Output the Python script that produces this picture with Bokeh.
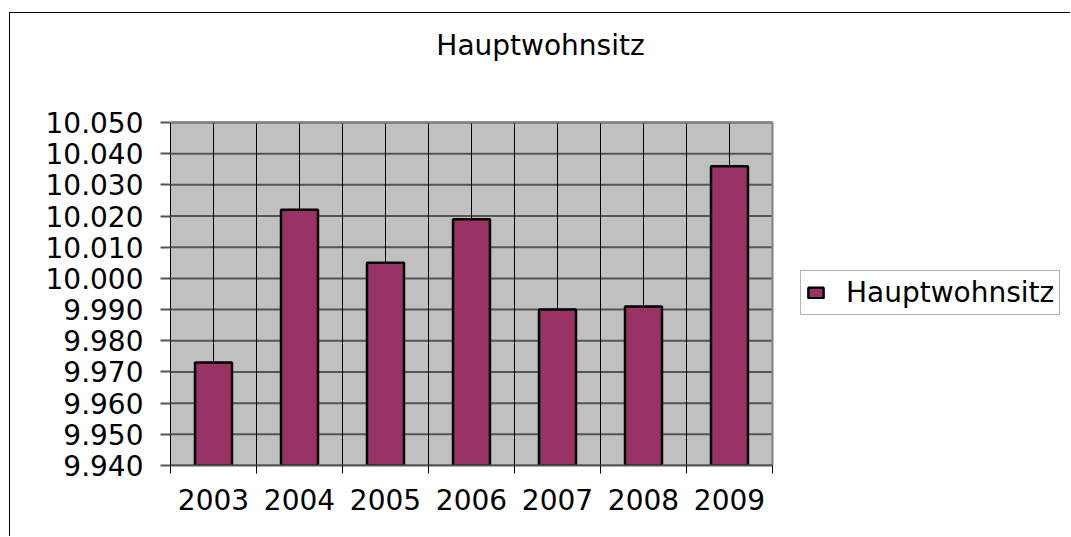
from bokeh.plotting import figure
from bokeh.models import (Range1d, FixedTicker, SingleIntervalTicker, Label,
                          CustomJSTickFormatter, Legend, LegendItem, ColumnDataSource)
from bokeh.embed import file_html
from bokeh.resources import INLINE

# ---- data ----
title_text = "Hauptwohnsitz"
series_name = "Hauptwohnsitz"
years = ["2003", "2004", "2005", "2006", "2007", "2008", "2009"]
values = [9973, 10022, 10005, 10019, 9990, 9991, 10036]
y_min, y_max, y_step = 9940, 10050, 10

n = len(years)
centers = [i + 0.5 for i in range(n)]
bounds = list(range(n + 1))
y_ticks = list(range(y_min, y_max + 1, y_step))

src = ColumnDataSource(dict(x=centers, top=values, year=years))

FONT = "DejaVu Sans"
FS = "28px"

# layout (pixels); the frame spans the whole chart area so that title and
# legend can sit inside it, while the grey plot area covers only the data ranges
FIG_W, FIG_H = 1061, 524
LEFT, TOP_GAP = 160, 109           # plot-area left edge, space above the plot area
PLOT_W, PLOT_H = 602, 343
BOTTOM = FIG_H - TOP_GAP - PLOT_H
x_end = (FIG_W - LEFT) * n / PLOT_W
y_end = y_max + (y_max - y_min) * TOP_GAP / PLOT_H

p = figure(width=FIG_W, height=FIG_H, output_backend="svg", toolbar_location=None,
           x_range=Range1d(0, x_end), y_range=Range1d(y_min, y_end),
           min_border_left=LEFT, min_border_right=0, min_border_top=0,
           min_border_bottom=BOTTOM,
           background_fill_color="white", border_fill_color="white",
           outline_line_color=None)
p.title.visible = False
p.styles = {"border-left": "1px solid black", "border-top": "1px solid black",
            "margin-left": "9px", "margin-top": "12px"}
p.xgrid.visible = False
p.ygrid.visible = False

# plot area background
p.quad(left=[0], right=[n], bottom=[y_min], top=[y_max], fill_color="#C0C0C0",
       line_color=None, level="image")
# horizontal gridlines
p.segment(x0=[0] * len(y_ticks), x1=[n] * len(y_ticks), y0=y_ticks, y1=y_ticks,
          line_color="#555555", line_width=2, level="underlay")
# vertical gridlines (category centres and boundaries)
v_lines = sorted(centers + bounds[1:-1])
p.segment(x0=v_lines, x1=v_lines, y0=[y_min] * len(v_lines), y1=[y_max] * len(v_lines),
          line_color="black", line_width=1, level="underlay")
# plot area border (top and right)
p.segment(x0=[0, n], x1=[n, n], y0=[y_max, y_min], y1=[y_max, y_max],
          line_color="#808080", line_width=2, level="underlay")

r = p.vbar(x="x", top="top", bottom=y_min, width=0.43, source=src,
           fill_color="#993366", line_color="black", line_width=2.5)

# x axis
xa = p.below[0]
xa.bounds = (0, n)
xa.ticker = FixedTicker(ticks=centers, minor_ticks=bounds)
xa.formatter = CustomJSTickFormatter(args=dict(labels=years),
                                     code="return labels[Math.floor(tick)];")
xa.major_label_text_font = FONT
xa.major_label_text_font_size = FS
xa.major_label_text_color = "black"
xa.major_tick_in = 0
xa.major_tick_out = 0
xa.minor_tick_in = 0
xa.minor_tick_out = 8
xa.minor_tick_line_color = "black"
xa.axis_line_color = "#555555"
xa.axis_line_width = 2
xa.major_label_standoff = 15

# y axis
ya = p.left[0]
ya.bounds = (y_min, y_max)
ya.ticker = SingleIntervalTicker(interval=y_step, num_minor_ticks=0)
ya.formatter = CustomJSTickFormatter(
    code=r"return Math.round(tick).toString().replace(/\B(?=(\d{3})+(?!\d))/g, '.');")
ya.major_label_text_font = FONT
ya.major_label_text_font_size = FS
ya.major_label_text_color = "black"
ya.major_tick_in = 0
ya.major_tick_out = 10
ya.major_tick_line_color = "#555555"
ya.major_tick_line_width = 2
ya.minor_tick_out = 0
ya.minor_tick_in = 0
ya.axis_line_color = "black"
ya.major_label_standoff = 17

# chart title
title = Label(x=370, y=PLOT_H + 77, x_units="screen", y_units="screen",
              text=title_text, text_font=FONT, text_font_size=FS,
              text_color="black", text_align="center", text_baseline="alphabetic")
p.add_layout(title)

legend = Legend(items=[LegendItem(label=series_name, renderers=[r])],
                location=(630, 150), orientation="vertical",
                label_text_font=FONT, label_text_font_size=FS, label_text_color="black",
                glyph_width=19, glyph_height=13, label_standoff=21,
                padding=5, margin=0, spacing=0,
                border_line_color="#666666", border_line_width=1,
                background_fill_color="white", background_fill_alpha=1)
p.add_layout(legend, "center")

open("out.html", "w").write(file_html(p, INLINE))
